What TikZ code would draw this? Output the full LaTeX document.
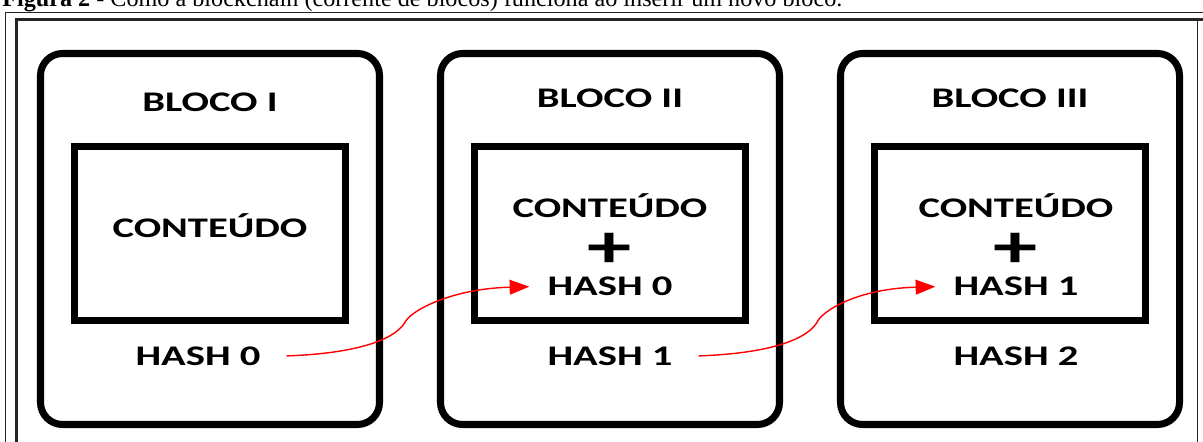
\documentclass[tikz,border=0pt]{standalone}
\usepackage{fontspec}
\setmainfont{Liberation Serif}
\newfontfamily\blkfont{Carlito}[FakeStretch=1.43]
\usetikzlibrary{positioning, arrows.meta}

\begin{document}
\begin{tikzpicture}[
    bloco/.style={rectangle, rounded corners=0.55cm,
                draw=black, line width=5pt, outer sep=0pt,
                minimum width=8.475cm, minimum height=9.275cm},
    dados/.style={rectangle, draw=black, line width=5pt, outer sep=0pt,
                minimum width=6.775cm, minimum height=4.35cm},
    rotulo/.style={inner sep=0pt, anchor=base,
                font=\blkfont\bfseries\fontsize{20.2}{24}\selectfont},
    mais/.style={inner sep=0pt,
                font=\blkfont\bfseries\fontsize{44}{44}\selectfont},
    elo/.style={-{Triangle[length=14pt, width=10.5pt]}, line width=1pt, color=red},
    moldura/.style={line width=0.6pt, color=black!85}]

  \clip (0,0) rectangle (30.075,-11.025);

  %--- Legenda ---
  \node[anchor=base west, inner sep=0pt, font=\fontsize{17.2}{20}\selectfont]
    (leg) at (0.05,-0.15)
    {\textbf{Figura 2} - Como a blockchain (corrente de blocos) funciona ao inserir um novo bloco.};

  %--- Moldura ---
  \draw[moldura] (0.125,-11.5) |- (30.5,-0.3);
  \draw[moldura, line width=1.6pt] (0.4125,-11.5) |- (30.5,-0.4875);
  \draw[moldura] (29.925,-0.4875) -- (29.925,-11.5);

  %--- Blocos ---
  \node[bloco]                       (b1) at (5.25,-5.975) {};
  \node[bloco, right=1.525cm of b1]  (b2) {};
  \node[bloco, right=1.525cm of b2]  (b3) {};
  \node[dados] (d1) at ([yshift=0.1375cm]b1.center) {};
  \node[dados] (d2) at ([yshift=0.1375cm]b2.center) {};
  \node[dados] (d3) at ([yshift=0.1375cm]b3.center) {};

  %--- Bloco I ---
  \node[rotulo] (t1) at ([yshift=-1.46cm]b1.north) {BLOCO I};
  \node[rotulo] (c1) at ([yshift=-4.59cm]b1.north) {CONTEÚDO};
  \node[rotulo] (h1) at ([xshift=-0.3cm, yshift=-7.79cm]b1.north) {HASH 0};

  %--- Bloco II ---
  \node[rotulo] (t2)  at ([yshift=-1.34cm]b2.north) {BLOCO II};
  \node[rotulo] (c2)  at ([yshift=-4.11cm]b2.north) {CONTEÚDO};
  \node[mais]   (p2)  at ([yshift=-4.93cm]b2.north) {+};
  \node[rotulo] (a2)  at ([yshift=-6.06cm]b2.north) {HASH 0};
  \node[rotulo] (h2)  at ([yshift=-7.79cm]b2.north) {HASH 1};

  %--- Bloco III ---
  \node[rotulo] (t3)  at ([yshift=-1.34cm]b3.north) {BLOCO III};
  \node[rotulo] (c3)  at ([xshift=0.15cm, yshift=-4.11cm]b3.north) {CONTEÚDO};
  \node[mais]   (p3)  at ([xshift=0.15cm, yshift=-4.93cm]b3.north) {+};
  \node[rotulo] (a3)  at ([xshift=0.15cm, yshift=-6.06cm]b3.north) {HASH 1};
  \node[rotulo] (h3)  at ([xshift=0.15cm, yshift=-7.79cm]b3.north) {HASH 2};

  %--- Ligações entre os hashes ---
  \draw[elo] ([xshift=0.65cm]h1.east)
    .. controls +(1.5,0.05) and +(-0.325,-0.5) .. ++(2.95,0.825)
    .. controls +(0.125,0.3) and +(-1.95,-0.05) .. ([xshift=-0.45cm]a2.west);
  \draw[elo] ([xshift=0.65cm]h2.east)
    .. controls +(1.5,0.05) and +(-0.325,-0.5) .. ++(2.95,0.825)
    .. controls +(0.125,0.3) and +(-1.95,-0.05) .. ([xshift=-0.45cm]a3.west);
\end{tikzpicture}
\end{document}
